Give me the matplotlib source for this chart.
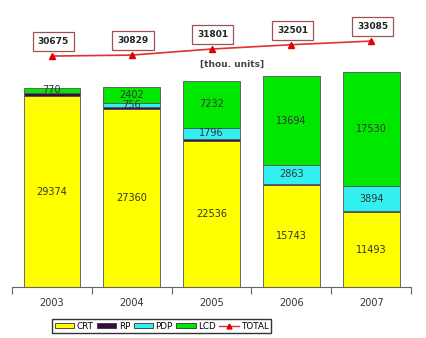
import matplotlib.pyplot as plt
import numpy as np
from matplotlib.lines import Line2D
from matplotlib.patches import Patch

years = ['2003', '2004', '2005', '2006', '2007']
crt = [29374, 27360, 22536, 15743, 11493]
rp = [531, 311, 237, 201, 168]
pdp = [0, 756, 1796, 2863, 3894]
lcd = [770, 2402, 7232, 13694, 17530]
total = [30675, 30829, 31801, 32501, 33085]

colors = {'CRT': '#ffff00', 'RP': '#3a0a45', 'PDP': '#33f0f0', 'LCD': '#00e800'}

fig = plt.figure(figsize=(4.26, 3.38), dpi=100)
ax = fig.add_axes([0.028, 0.151, 0.937, 0.76])
x = np.arange(len(years))
w = 0.71

bottom = np.zeros(len(years))
series = [('CRT', crt), ('RP', rp), ('PDP', pdp), ('LCD', lcd)]
for name, vals in series:
    vals = np.array(vals)
    ax.bar(x, vals, w, bottom=bottom, color=colors[name], edgecolor='#555555', linewidth=0.6)
    if name != 'RP':
        for i, v in enumerate(vals):
            if v > 0:
                ax.text(x[i], bottom[i] + v / 2, str(v), ha='center', va='center',
                        fontsize=7, color='#333333')
    bottom += vals

ax.set_xlim(-0.5, len(years) - 0.5)
ax.set_ylim(0, 39600)
ax.set_yticks([])
for s in ['left', 'right', 'top']:
    ax.spines[s].set_visible(False)
ax.spines['bottom'].set_color('#666666')
ax.set_xticks(np.arange(-0.5, len(years), 1))
ax.set_xticklabels([])
ax.set_xticks(x, minor=True)
ax.set_xticklabels(years, minor=True, fontsize=7, color='#333333')
ax.tick_params(axis='x', which='major', length=5, color='#666666')
ax.tick_params(axis='x', which='minor', length=0, pad=8)

ax2 = ax.twinx()
ax2.set_ylim(-6440, 34850)
ax2.axis('off')
ax2.plot(x, total, color='#e03030', lw=1.2, marker='^', ms=5, mfc='#e00000', mec='#e00000')
for i, v in enumerate(total):
    ax2.annotate(str(v), (x[i], v), xytext=(1, 10.5), textcoords='offset points',
                 ha='center', va='center', fontsize=6.5, fontweight='bold', color='#222222',
                 bbox=dict(boxstyle='square,pad=0.55', fc='white', ec='#a05050', lw=0.9))

fig.text(0.545, 0.81, '[thou. units]', ha='center', va='center', fontsize=6.5,
         fontweight='bold', color='#444444')

handles = [Patch(facecolor=colors[n], edgecolor='#333333', linewidth=0.6, label=n)
           for n in ['CRT', 'RP', 'PDP', 'LCD']]
handles.append(Line2D([], [], color='#e03030', marker='^', ms=3.5, mfc='#e00000',
                      mec='#e00000', lw=1, label='TOTAL'))
fig.legend(handles=handles, loc='center', bbox_to_anchor=(0.38, 0.035), ncol=5,
           fontsize=6.3, frameon=True, fancybox=False, edgecolor='#333333',
           handlelength=2.2, handleheight=0.6, handletextpad=0.3, columnspacing=0.4,
           borderpad=0.25, framealpha=1)

fig.savefig('out.png', dpi=100)
